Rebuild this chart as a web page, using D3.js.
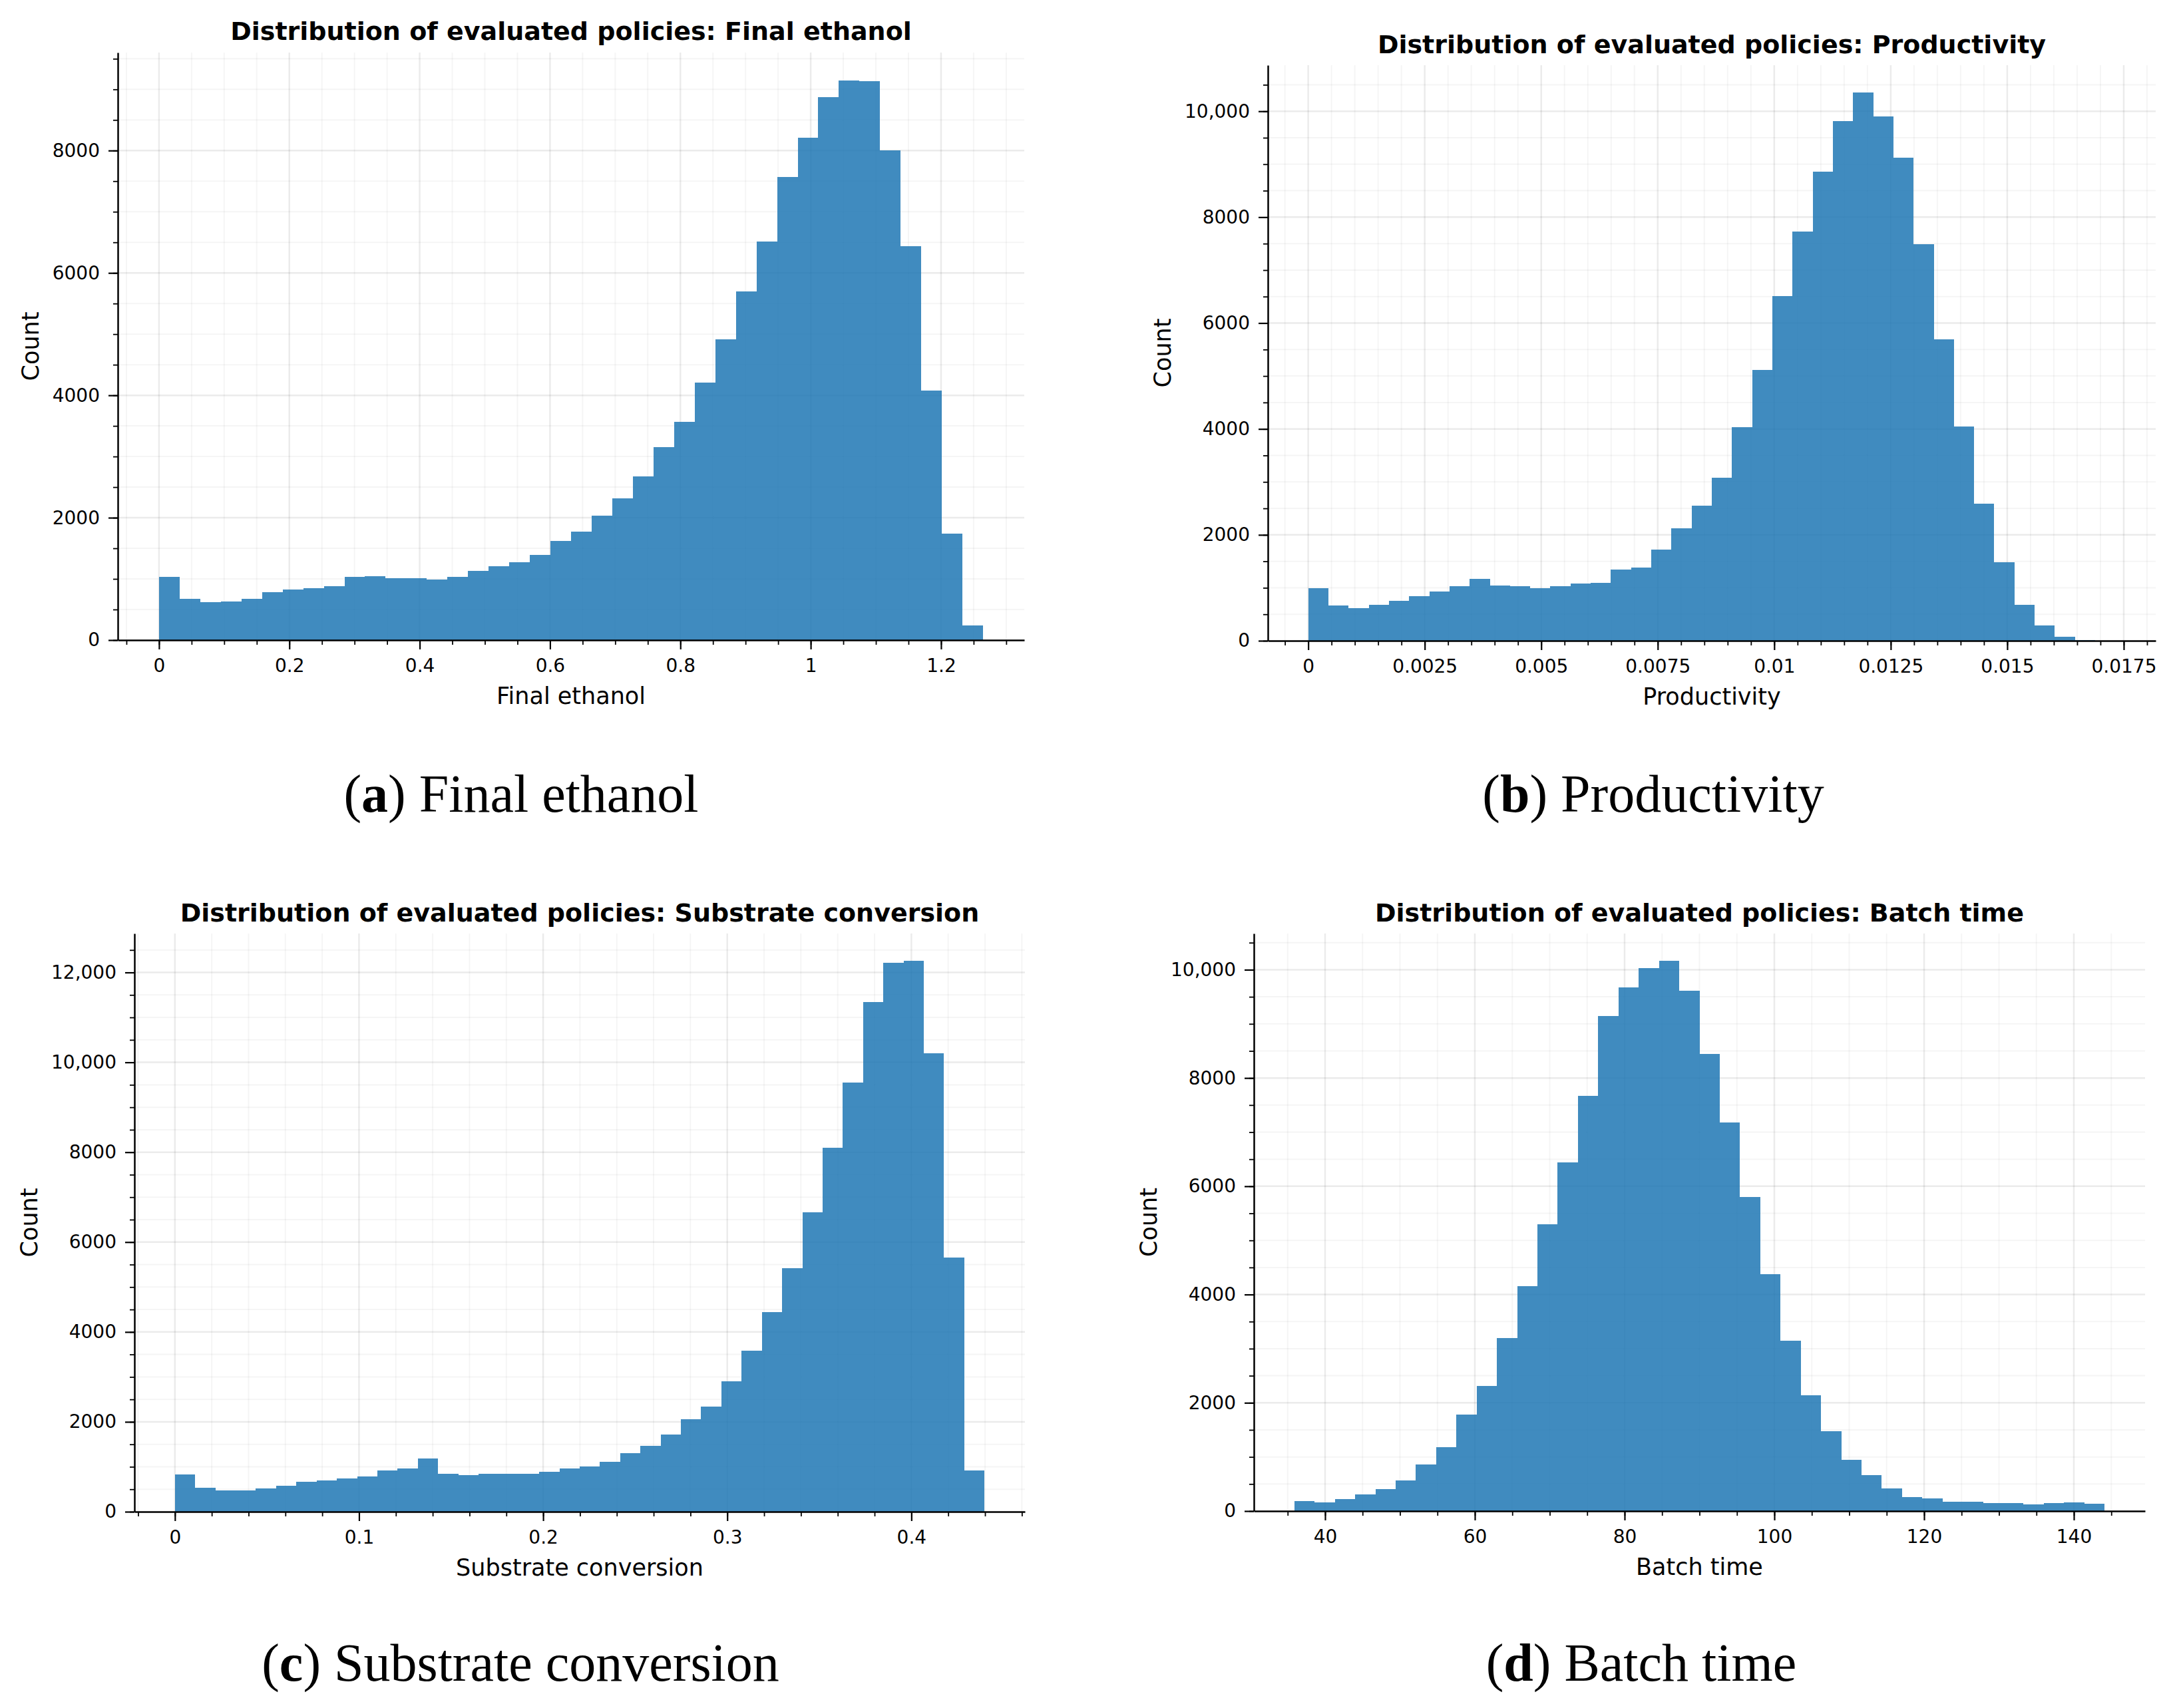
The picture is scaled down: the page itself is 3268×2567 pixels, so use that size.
<!DOCTYPE html>
<html>
<head>
<meta charset="utf-8">
<script src="https://cdn.jsdelivr.net/npm/d3@7"></script>
<style>
  body { margin: 0; background: #fff; }
</style>
</head>
<body>
<svg id="fig" width="3268" height="2567"></svg>
<script>
// histogram counts, 40 bins each
const finalEthanolCounts = [1029, 670, 625, 632, 678, 785, 830, 853, 876, 1029, 1044, 1013, 1013, 990, 1029, 1128, 1204, 1273, 1394, 1615,
    1775, 2034, 2316, 2674, 3155, 3566, 4206, 4915, 5700, 6515, 7567, 8214, 8870, 9144, 9129, 8001, 6439, 4077, 1745, 244];
const productivityCounts = [987, 670, 617, 678, 758, 837, 934, 1031, 1163, 1048, 1031, 987, 1031, 1084, 1092, 1339, 1383, 1727, 2123, 2555,
    3084, 4035, 5119, 6511, 7727, 8854, 9814, 10352, 9903, 9119, 7489, 5692, 4044, 2590, 1489, 678, 291, 79, 15, 5];
const substrateCounts = [823, 531, 478, 470, 520, 579, 668, 698, 742, 787, 920, 965, 1188, 846, 817, 846, 846, 846, 891, 965,
    1011, 1115, 1302, 1469, 1719, 2052, 2344, 2896, 3584, 4438, 5417, 6658, 8096, 9555, 11336, 12212, 12254, 10201, 5658, 917];
const batchTimeCounts = [190, 164, 216, 302, 406, 570, 855, 1175, 1780, 2307, 3197, 4156, 5296, 6445, 7672, 9141, 9668, 10031, 10161, 9608,
    8450, 7180, 5806, 4372, 3145, 2137, 1470, 952, 667, 421, 264, 233, 170, 170, 148, 148, 126, 148, 161, 134];

// bin edges (first, last)
const finalEthanolRange = [0, 1.2645];
const productivityRange = [0, 0.01732];
const substrateRange = [0, 0.4397];
const batchTimeRange = [35.9, 144.1];

// tick values
const finalEthanolTicks = [0, 0.2, 0.4, 0.6, 0.8, 1, 1.2];
const productivityTicks = [0, 0.0025, 0.005, 0.0075, 0.01, 0.0125, 0.015, 0.0175];
const substrateTicks = [0, 0.1, 0.2, 0.3, 0.4];
const batchTimeTicks = [40, 60, 80, 100, 120, 140];
const countTicksA = [0, 2000, 4000, 6000, 8000];
const countTicksB = [0, 2000, 4000, 6000, 8000, 10000];
const countTicksC = [0, 2000, 4000, 6000, 8000, 10000, 12000];
const countTicksD = [0, 2000, 4000, 6000, 8000, 10000];

const panels = [
    {letter: "a", name: "Final ethanol", counts: finalEthanolCounts, range: finalEthanolRange,
     xTicks: finalEthanolTicks, yTicks: countTicksA, xMinor: 0.05,
     box: {left: 177, right: 1539, top: 79, bottom: 962}, titleY: 60, cap: [783, 1220]},
    {letter: "b", name: "Productivity", counts: productivityCounts, range: productivityRange,
     xTicks: productivityTicks, yTicks: countTicksB, xMinor: 0.0005,
     box: {left: 1905, right: 3239, top: 98, bottom: 963}, titleY: 80, cap: [2484, 1220]},
    {letter: "c", name: "Substrate conversion", counts: substrateCounts, range: substrateRange,
     xTicks: substrateTicks, yTicks: countTicksC, xMinor: 0.02,
     box: {left: 202, right: 1540, top: 1403, bottom: 2272}, titleY: 1385, cap: [782, 2526]},
    {letter: "d", name: "Batch time", counts: batchTimeCounts, range: batchTimeRange,
     xTicks: batchTimeTicks, yTicks: countTicksD, xMinor: 5,
     box: {left: 1884, right: 3223, top: 1403, bottom: 2271}, titleY: 1385, cap: [2466, 2526]}
];

const svg = d3.select("#fig");
svg.append("rect").attr("width", 3268).attr("height", 2567).attr("fill", "#fff");

const fmt = v => v >= 10000 ? d3.format(",")(v) : String(+v.toFixed(6));
const minorsIn = (lo, hi, step) => d3.range(Math.ceil(lo / step - 1e-9), Math.floor(hi / step + 1e-9) + 1).map(k => +(k * step).toFixed(8));
const isMajor = (v, majors) => majors.some(m => Math.abs(m - v) < 1e-9 * Math.max(1, Math.abs(m)));

function drawPanel(p) {
    const g = svg.append("g");
    const b = p.box;
    const pad = (p.range[1] - p.range[0]) * 0.05;
    const x = d3.scaleLinear().domain([p.range[0] - pad, p.range[1] + pad]).range([b.left, b.right]);
    const y = d3.scaleLinear().domain([0, d3.max(p.counts) * 1.05]).range([b.bottom, b.top]);
    const w = (p.range[1] - p.range[0]) / p.counts.length;
    const bins = p.counts.map((c, i) => ({x0: p.range[0] + i * w, x1: p.range[0] + (i + 1) * w, c: c}));

    const xMin = minorsIn(x.domain()[0], x.domain()[1], p.xMinor);
    const yMin = minorsIn(0, y.domain()[1], 500);
    const xMaj = p.xTicks;
    const yMaj = p.yTicks;

    // grid
    const grid = g.append("g");
    grid.selectAll(".vmin").data(xMin.filter(v => !isMajor(v, xMaj))).join("line")
        .attr("x1", d => x(d)).attr("x2", d => x(d)).attr("y1", b.top).attr("y2", b.bottom)
        .attr("stroke", "#000").attr("stroke-opacity", 0.04).attr("stroke-width", 2);
    grid.selectAll(".hmin").data(yMin.filter(v => !isMajor(v, yMaj))).join("line")
        .attr("x1", b.left).attr("x2", b.right).attr("y1", d => y(d)).attr("y2", d => y(d))
        .attr("stroke", "#000").attr("stroke-opacity", 0.04).attr("stroke-width", 2);
    grid.selectAll(".vmaj").data(xMaj).join("line")
        .attr("x1", d => x(d)).attr("x2", d => x(d)).attr("y1", b.top).attr("y2", b.bottom)
        .attr("stroke", "#000").attr("stroke-opacity", 0.08).attr("stroke-width", 2.5);
    grid.selectAll(".hmaj").data(yMaj).join("line")
        .attr("x1", b.left).attr("x2", b.right).attr("y1", d => y(d)).attr("y2", d => y(d))
        .attr("stroke", "#000").attr("stroke-opacity", 0.08).attr("stroke-width", 2.5);

    // bars
    g.append("g").selectAll("rect").data(bins).join("rect")
        .attr("x", d => x(d.x0))
        .attr("width", d => x(d.x1) - x(d.x0))
        .attr("y", d => y(d.c))
        .attr("height", d => y(0) - y(d.c))
        .attr("fill", "#1f77b4").attr("fill-opacity", 0.85)
        .attr("shape-rendering", "crispEdges");

    // minor ticks
    g.append("g").attr("transform", `translate(0,${b.bottom})`)
        .call(d3.axisBottom(x).tickValues(xMin).tickSize(7).tickFormat(""))
        .call(s => s.select(".domain").remove())
        .call(s => s.selectAll("line").attr("stroke", "#000").attr("stroke-width", 1.8));
    g.append("g").attr("transform", `translate(${b.left},0)`)
        .call(d3.axisLeft(y).tickValues(yMin).tickSize(7).tickFormat(""))
        .call(s => s.select(".domain").remove())
        .call(s => s.selectAll("line").attr("stroke", "#000").attr("stroke-width", 1.8));

    // major axes
    const xAxis = g.append("g").attr("transform", `translate(0,${b.bottom})`)
        .call(d3.axisBottom(x).tickValues(xMaj).tickSize(14).tickSizeOuter(0).tickPadding(14).tickFormat(fmt));
    const yAxis = g.append("g").attr("transform", `translate(${b.left},0)`)
        .call(d3.axisLeft(y).tickValues(yMaj).tickSize(14).tickSizeOuter(0).tickPadding(13).tickFormat(fmt));
    [xAxis, yAxis].forEach(a => {
        a.attr("font-family", "DejaVu Sans").attr("font-size", 28);
        a.select(".domain").attr("stroke", "#000").attr("stroke-width", 2.5);
        a.selectAll(".tick line").attr("stroke", "#000").attr("stroke-width", 2.2);
        a.selectAll(".tick text").attr("fill", "#000");
    });

    const maxW = d3.max(yAxis.selectAll(".tick text").nodes(), n => n.getBBox().width);
    const cx = (b.left + b.right) / 2;
    const cy = (b.top + b.bottom) / 2;

    g.append("text")
        .attr("transform", `translate(${b.left - 27 - maxW - 21},${cy}) rotate(-90)`)
        .attr("text-anchor", "middle")
        .attr("font-family", "DejaVu Sans").attr("font-size", 35)
        .text("Count");

    g.append("text")
        .attr("x", cx).attr("y", b.bottom + 96)
        .attr("text-anchor", "middle")
        .attr("font-family", "DejaVu Sans").attr("font-size", 35)
        .text(p.name);

    g.append("text")
        .attr("x", cx).attr("y", p.titleY)
        .attr("text-anchor", "middle")
        .attr("font-family", "DejaVu Sans").attr("font-weight", "bold").attr("font-size", 38)
        .text("Distribution of evaluated policies: " + p.name);

    const cap = svg.append("text")
        .attr("x", p.cap[0]).attr("y", p.cap[1])
        .attr("text-anchor", "middle")
        .attr("font-family", "Liberation Serif").attr("font-size", 80);
    cap.append("tspan").text("(");
    cap.append("tspan").attr("font-weight", "bold").text(p.letter);
    cap.append("tspan").text(") " + p.name);
}

panels.forEach(drawPanel);
</script>
</body>
</html>
